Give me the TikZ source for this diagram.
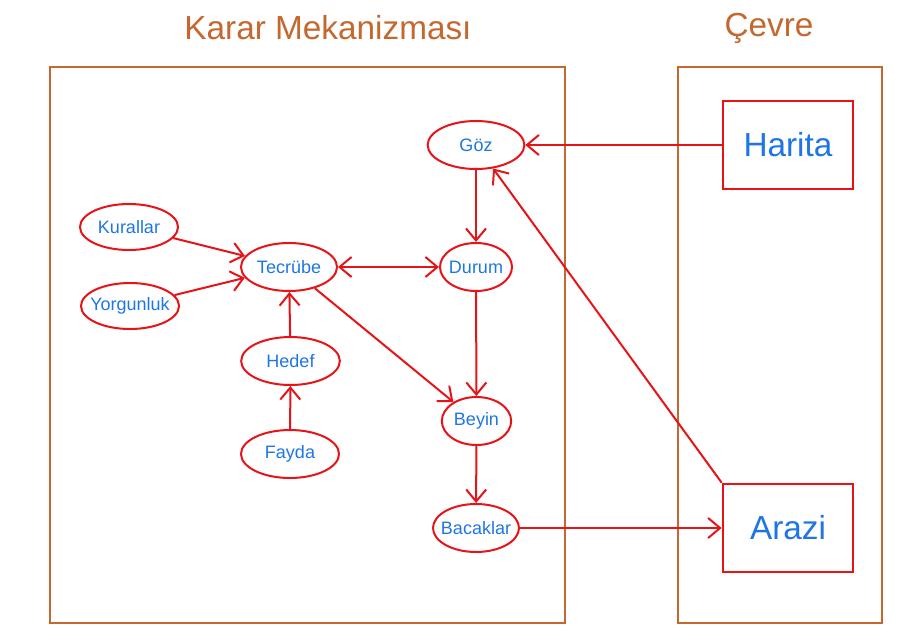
\documentclass[tikz,border=0pt]{standalone}
\usepackage{fontspec}
\setmainfont{Liberation Sans}
\usetikzlibrary{shapes.geometric,arrows.meta}
\definecolor{brn}{RGB}{196,104,48}
\definecolor{rd}{RGB}{230,20,24}
\definecolor{bl}{RGB}{30,118,228}
\newcommand{\zb}[1]{\makebox[0pt][c]{#1}}
\begin{document}
\begin{tikzpicture}[x=0.75pt,y=-0.75pt,
  frame/.style={draw=brn,line width=1.5pt},
  title/.style={text=brn,font=\fontsize{25}{28}\selectfont},
  ell/.style={ellipse,draw=rd,line width=1.5pt,inner sep=0pt,text=bl,font=\fontsize{13.5}{15}\selectfont,minimum height=36pt},
  bigbox/.style={rectangle,draw=rd,line width=2pt,text=bl,font=\fontsize{25}{28}\selectfont,minimum width=97.5pt,minimum height=66pt,inner sep=0pt},
  arr/.style={draw=rd,line width=1.5pt,-{Straight Barb[length=9pt,width=15pt,line width=1.5pt]}},
  darr/.style={draw=rd,line width=1.5pt,{Straight Barb[length=9pt,width=15pt,line width=1.5pt]}-{Straight Barb[length=9pt,width=15pt,line width=1.5pt]}}]
\useasboundingbox (0,0) rectangle (922,643);
% frames
\draw[frame] (50,67) rectangle (565,623);
\draw[frame] (678,67) rectangle (882,623);
\node[title] (t1) at (328,28) {Karar Mekanizması};
\node[title] (t2) at (769,28) {Çevre};
% boxes
\node[bigbox] (harita) at (788,145) {Harita};
\node[bigbox] (arazi) at (788,528) {Arazi};
% ellipses
\node[ell,minimum width=72.5pt] (goz) at (476,145) {\zb{Göz}};
\node[ell,minimum width=73.5pt,minimum height=34.5pt] (kurallar) at (129,227) {\zb{Kurallar}};
\node[ell,minimum width=72pt] (tecrube) at (289,267) {\zb{Tecrübe}};
\node[ell,minimum width=54pt] (durum) at (476,267) {\zb{Durum}};
\node[ell,minimum width=73.5pt,minimum height=34.5pt] (yorgun) at (130,306) {\zb{Yorgunluk}};
\node[ell,minimum width=74pt] (hedef) at (290.5,361) {\zb{Hedef}};
\node[ell,minimum width=52pt] (beyin) at (476.5,421) {\zb{Beyin}};
\node[ell,minimum width=73.5pt] (fayda) at (290,454) {\zb{Fayda}};
\node[ell,minimum width=64.5pt] (bacak) at (476,528) {\zb{Bacaklar}};
% connectors
\draw[arr] (harita) -- (goz);
\draw[arr] (arazi.north west) -- (goz);
\draw[arr] (goz) -- (durum);
\draw[arr] (kurallar) -- (tecrube);
\draw[arr] (yorgun) -- (tecrube);
\draw[darr] (tecrube) -- (durum);
\draw[arr] (hedef) -- (tecrube);
\draw[arr] (fayda) -- (hedef);
\draw[arr] (tecrube) -- (beyin);
\draw[arr] (durum) -- (beyin);
\draw[arr] (beyin) -- (bacak);
\draw[arr] (bacak) -- (arazi);
\end{tikzpicture}
\end{document}
